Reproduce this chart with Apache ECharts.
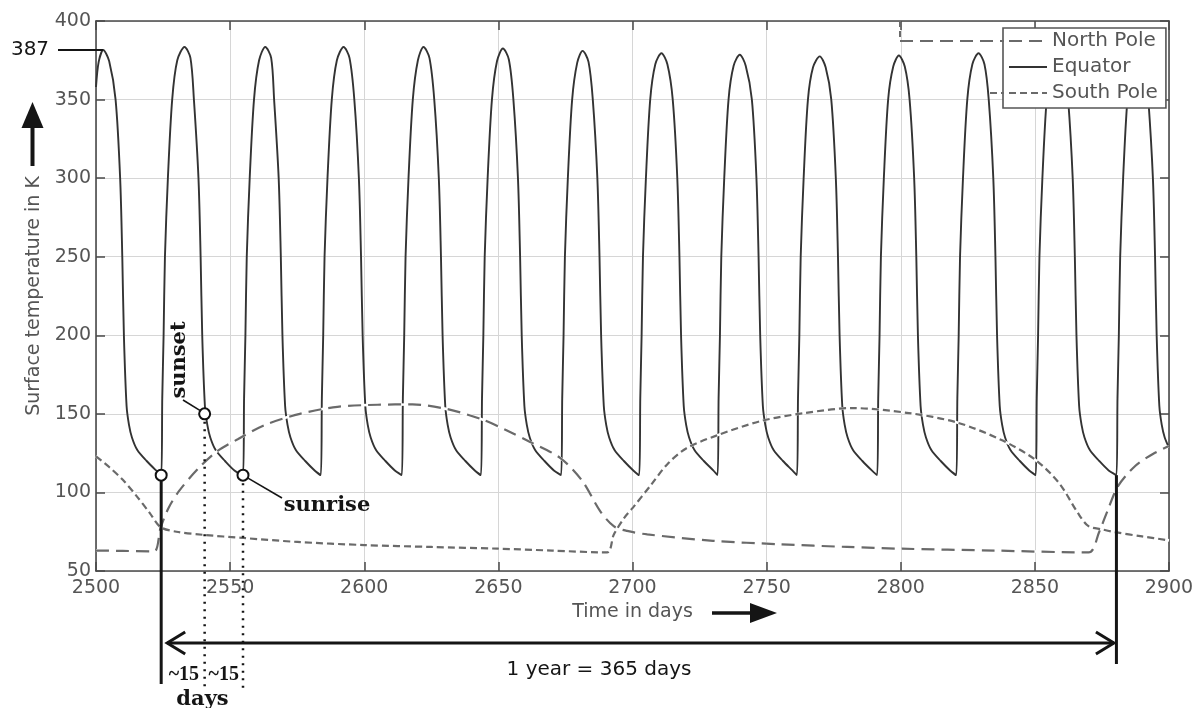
<!DOCTYPE html>
<html><head><meta charset="utf-8">
<script src="https://cdn.jsdelivr.net/npm/echarts@6/dist/echarts.min.js"></script>
<style>html,body{margin:0;padding:0;background:#fff}#c{width:1202px;height:708px}</style>
</head><body><div id="c"></div>
<script>
// ---- data ----
const xRange = [2500, 2900];
const yRange = [50, 400];
const seriesNames = ['North Pole', 'Equator', 'South Pole'];

const equator = [
[2500,358],[2501,374],[2502.7,381.5],[2504.9,374.5],[2507.3,350],[2509.0,300],[2509.8,250],[2510.4,200],[2511.4,155],[2512.3,143],[2513.4,135],[2515.4,127],[2518.9,120],[2522.4,114],
[2524.3,111],[2524.7,160],[2525.2,200],[2525.7,250],[2526.8,300],[2528.4,350],[2530.3,375],[2533.0,383.5],[2535.2,376.5],
[2536.5,350],[2538.2,300],[2539.0,250],[2539.6,200],[2540.6,155],[2541.5,143],[2542.6,135],[2544.6,127],[2548.1,120],[2551.6,114],
[2554.8,111],[2555.2,160],[2555.7,200],[2556.2,250],[2557.3,300],[2558.9,350],[2560.8,375],[2563.1,383.5],[2565.3,376.5],
[2566.4,350],[2568.1,300],[2568.9,250],[2569.5,200],[2570.5,155],[2571.4,143],[2572.5,135],[2574.5,127],[2578.0,120],[2581.5,114],
[2583.8,111],[2584.2,160],[2584.7,200],[2585.2,250],[2586.3,300],[2587.9,350],[2589.8,375],[2592.3,383.5],[2594.5,376.5],
[2596.3,350],[2598.0,300],[2598.8,250],[2599.4,200],[2600.4,155],[2601.3,143],[2602.4,135],[2604.4,127],[2607.9,120],[2611.4,114],
[2614.0,111],[2614.4,160],[2614.9,200],[2615.4,250],[2616.5,300],[2618.1,350],[2620.0,375],[2622.1,383.5],[2624.3,376.5],
[2626.1,350],[2627.8,300],[2628.6,250],[2629.2,200],[2630.2,155],[2631.1,143],[2632.2,135],[2634.2,127],[2637.7,120],[2641.2,114],
[2643.5,111],[2643.9,160],[2644.4,200],[2644.9,250],[2646.0,300],[2647.6,350],[2649.5,374.5],[2651.7,382.5],[2653.9,375.5],
[2655.6,350],[2657.3,300],[2658.1,250],[2658.7,200],[2659.7,155],[2660.6,143],[2661.7,135],[2663.7,127],[2667.2,120],[2670.7,114],
[2673.4,111],[2673.8,160],[2674.3,200],[2674.8,250],[2675.9,300],[2677.5,350],[2679.4,373.5],[2681.4,381],[2683.6,374],
[2685.2,350],[2686.9,300],[2687.7,250],[2688.3,200],[2689.3,155],[2690.2,143],[2691.3,135],[2693.3,127],[2696.8,120],[2700.3,114],
[2702.5,111],[2702.9,160],[2703.4,200],[2703.9,250],[2705.0,300],[2706.6,350],[2708.5,372.5],[2710.8,379.5],[2713.0,372.5],
[2715.0,350],[2716.7,300],[2717.5,250],[2718.1,200],[2719.1,155],[2720.0,143],[2721.1,135],[2723.1,127],[2726.6,120],[2730.1,114],
[2731.7,111],[2732.1,160],[2732.6,200],[2733.1,250],[2734.2,300],[2735.8,350],[2737.7,371.5],[2740.0,378.5],[2742.2,371.5],
[2744.5,350],[2746.2,300],[2747.0,250],[2747.6,200],[2748.6,155],[2749.5,143],[2750.6,135],[2752.6,127],[2756.1,120],[2759.6,114],
[2761.3,111],[2761.7,160],[2762.2,200],[2762.7,250],[2763.8,300],[2765.4,350],[2767.3,370.5],[2769.8,377.5],[2772.0,370.5],
[2774.1,350],[2775.8,300],[2776.6,250],[2777.2,200],[2778.2,155],[2779.1,143],[2780.2,135],[2782.2,127],[2785.7,120],[2789.2,114],
[2791.2,111],[2791.6,160],[2792.1,200],[2792.6,250],[2793.7,300],[2795.3,350],[2797.2,371],[2799.3,378],[2801.5,371],
[2803.3,350],[2805.0,300],[2805.8,250],[2806.4,200],[2807.4,155],[2808.3,143],[2809.4,135],[2811.4,127],[2814.9,120],[2818.4,114],
[2820.7,111],[2821.1,160],[2821.6,200],[2822.1,250],[2823.2,300],[2824.8,350],[2826.7,372.5],[2829.0,379.5],[2831.2,372.5],
[2832.8,350],[2834.5,300],[2835.3,250],[2835.9,200],[2836.9,155],[2837.8,143],[2838.9,135],[2840.9,127],[2844.4,120],[2847.9,114],
[2850.3,111],[2850.7,160],[2851.2,200],[2851.7,250],[2852.8,300],[2854.4,350],[2856.3,374],[2858.6,381],[2860.8,374],
[2862.4,350],[2864.1,300],[2864.9,250],[2865.5,200],[2866.5,155],[2867.4,143],[2868.5,135],[2870.5,127],[2874.0,120],[2877.5,114],
[2880.4,111],[2880.8,160],[2881.3,200],[2881.8,250],[2882.9,300],[2884.5,350],[2886.4,375],[2888.7,382],[2890.9,375],
[2892.3,350],[2894.0,300],[2894.8,250],[2895.4,200],[2896.4,155],[2897.3,143],[2898.4,135],[2900.0,128.5]
];

const northPole = [
[2500,63],[2510,62.8],[2521.6,62.5],[2524,77],[2527,90],[2531,101],[2538,115],[2545,126],[2553,134],[2563,143],
[2576,150],[2590,154.5],[2605,155.8],[2618,156],[2631,153],[2644,146.4],[2653,139.5],[2662,132],[2673,122],[2681,108],
[2688,88],[2693,78.5],[2698,75.5],[2705.5,73.3],[2730,69.2],[2755,67],[2780,65.3],[2800,64.2],[2835,63],[2870,61.8],
[2874,75],[2877,88],[2881,104],[2887.5,117],[2894,124.5],[2900,129.5]
];

const southPole = [
[2500,123],[2505,116],[2510,108],[2515,98],[2520,87],[2524,78],[2530,75],[2540,73],[2555,71],[2575,68.5],
[2600,66.5],[2625,65.3],[2650,64.2],[2670,63],[2690.5,61.8],[2693,73],[2697,84],[2700,90],[2707,105],[2713,118],
[2720,128],[2731,136],[2748,145.5],[2764,150.5],[2782,153.7],[2803,150.5],[2821,144.5],[2838,133],[2850,121],[2859,106],
[2866,87],[2870,78.5],[2875,76.5],[2880,74.7],[2890,72],[2900,69.5]
];

// annotated points: sunrise, sunset, sunrise, and the sunrise one year later
const markedPoints = [[2524.3,111],[2540.5,150],[2554.8,111]];
const yearEnd = [2880.4,111];
const peakLabel = '387';

// ---- chart ----
const chart = echarts.init(document.getElementById('c'), null, {renderer:'canvas'});
const AX = '#4a4a4a';
const TXT = '#555';
const FONT = 'DejaVu Sans';
const axisCommon = {
  type:'value',
  axisLine:{show:true, lineStyle:{color:AX, width:1.6}},
  axisTick:{show:true, inside:true, length:9, lineStyle:{color:AX, width:1.5}}
};
chart.setOption({
  animation:false,
  backgroundColor:'#fff',
  grid:{left:96, right:33, top:21, bottom:137, containLabel:false},
  legend:{
    data:seriesNames, orient:'vertical', left:1003, top:28,
    padding:[3,8,5,5], itemGap:6, itemWidth:38, itemHeight:14,
    backgroundColor:'#fff', borderColor:'#555', borderWidth:1.6, borderRadius:0,
    itemStyle:{color:'rgba(0,0,0,0)', borderWidth:0, opacity:0},
    textStyle:{fontFamily:FONT, fontSize:20, color:TXT, lineHeight:20},
    z:20
  },
  xAxis:[
    Object.assign({}, axisCommon, {
      min:xRange[0], max:xRange[1], interval:50, position:'bottom',
      axisLabel:{fontFamily:FONT, fontSize:19, color:TXT, margin:8, formatter:v=>String(v)},
      splitLine:{show:true, lineStyle:{color:'#d6d6d6', width:1}},
      name:'Time in days', nameLocation:'middle', nameGap:32,
      nameTextStyle:{fontFamily:FONT, fontSize:19, color:TXT}
    }),
    Object.assign({}, axisCommon, {
      min:xRange[0], max:xRange[1], interval:50, position:'top',
      axisLabel:{show:false}, splitLine:{show:false}
    })
  ],
  yAxis:[
    Object.assign({}, axisCommon, {
      min:yRange[0], max:yRange[1], interval:50, position:'left',
      axisLabel:{fontFamily:FONT, fontSize:19, color:TXT, margin:5, formatter:v=>String(v)},
      splitLine:{show:true, lineStyle:{color:'#d6d6d6', width:1}},
      name:'Surface temperature in K', nameLocation:'middle', nameGap:47, nameRotate:90,
      nameTextStyle:{fontFamily:FONT, fontSize:19, color:TXT}
    }),
    Object.assign({}, axisCommon, {
      min:yRange[0], max:yRange[1], interval:50, position:'right',
      axisLabel:{show:false}, splitLine:{show:false}
    })
  ],
  series:[
    {name:'Equator', type:'line', data:equator, symbol:'none', smooth:0.3,
     lineStyle:{color:'#333', width:1.9}, itemStyle:{color:'#222'}, z:2,
     markPoint:{symbol:'circle', symbolSize:11, silent:true,
       itemStyle:{color:'#fff', borderColor:'#111', borderWidth:2},
       label:{show:false},
       data:markedPoints.map(p=>({coord:p}))}
    },
    {name:'NP-under', type:'line', data:northPole, symbol:'none', smooth:0.3,
     lineStyle:{color:'#fff', width:2.6}, z:3, silent:true},
    {name:'SP-under', type:'line', data:southPole, symbol:'none', smooth:0.3,
     lineStyle:{color:'#fff', width:2.6}, z:3, silent:true},
    {name:'North Pole', type:'line', data:northPole, symbol:'none', smooth:0.3,
     lineStyle:{color:'#6a6a6a', width:2.2, type:[13,7]}, itemStyle:{color:'#6a6a6a'}, z:4},
    {name:'South Pole', type:'line', data:southPole, symbol:'none', smooth:0.3,
     lineStyle:{color:'#6a6a6a', width:2.2, type:[7,4]}, itemStyle:{color:'#6a6a6a'}, z:4}
  ]
});

// ---- annotations ----
const px = p => chart.convertToPixel({xAxisIndex:0, yAxisIndex:0}, p);
const a0 = px(markedPoints[0]);     // sunrise
const aS = px(markedPoints[1]);     // sunset
const aR = px(markedPoints[2]);     // next sunrise
const aE = px(yearEnd);
const blk = '#151515';
const serif = 'bold 21px "DejaVu Serif"';
const g = [];
// 387 label
g.push({type:'text', x:30, y:50, style:{text:peakLabel, font:'20px "DejaVu Sans"', fill:blk, align:'center', verticalAlign:'middle'}});
g.push({type:'line', shape:{x1:58, y1:50, x2:103, y2:50}, style:{stroke:blk, lineWidth:2}});
// up arrow by y axis
g.push({type:'polygon', shape:{points:[[32.5,102],[21.5,128],[43.5,128]]}, style:{fill:blk}});
g.push({type:'rect', shape:{x:30.5, y:126, width:4, height:40}, style:{fill:blk}});
// right arrow after "Time in days"
g.push({type:'line', shape:{x1:712, y1:613, x2:754, y2:613}, style:{stroke:blk, lineWidth:3.5}});
g.push({type:'polygon', shape:{points:[[777,613],[750,603],[750,623]]}, style:{fill:blk}});
// year markers
g.push({type:'line', shape:{x1:a0[0], y1:a0[1]+5, x2:a0[0], y2:684}, style:{stroke:blk, lineWidth:3}});
g.push({type:'line', shape:{x1:aE[0], y1:aE[1], x2:aE[0], y2:664}, style:{stroke:blk, lineWidth:3}});
const L = a0[0]+6, R = aE[0]-2.5, Y = 643;
g.push({type:'line', shape:{x1:L, y1:Y, x2:R, y2:Y}, style:{stroke:blk, lineWidth:3}});
g.push({type:'polyline', shape:{points:[[L+18,Y-11],[L,Y],[L+18,Y+11]]}, style:{stroke:blk, lineWidth:3, fill:null}});
g.push({type:'polyline', shape:{points:[[R-18,Y-11],[R,Y],[R-18,Y+11]]}, style:{stroke:blk, lineWidth:3, fill:null}});
g.push({type:'text', x:599, y:670, style:{text:'1 year = 365 days', font:'20px "DejaVu Sans"', fill:blk, align:'center', verticalAlign:'middle'}});
// dotted verticals
g.push({type:'line', shape:{x1:aS[0], y1:aS[1]+8, x2:aS[0], y2:690}, style:{stroke:blk, lineWidth:2.5, lineDash:[2,5.5]}});
g.push({type:'line', shape:{x1:aR[0], y1:aR[1]+8, x2:aR[0], y2:690}, style:{stroke:blk, lineWidth:2.5, lineDash:[2,5.5]}});
g.push({type:'text', x:(a0[0]+aS[0])/2+1, y:675, style:{text:'~15', font:'bold 20px "Liberation Serif"', fill:blk, align:'center', verticalAlign:'middle'}});
g.push({type:'text', x:(aS[0]+aR[0])/2, y:675, style:{text:'~15', font:'bold 20px "Liberation Serif"', fill:blk, align:'center', verticalAlign:'middle'}});
g.push({type:'text', x:202.5, y:700, style:{text:'days', font:serif, fill:blk, align:'center', verticalAlign:'middle'}});
// sunset / sunrise labels
g.push({type:'text', x:180, y:360, rotation:Math.PI/2, style:{text:'sunset', font:serif, fill:blk, align:'center', verticalAlign:'middle'}});
g.push({type:'line', shape:{x1:183, y1:400, x2:aS[0]-4, y2:aS[1]-3}, style:{stroke:blk, lineWidth:1.6}});
g.push({type:'text', x:327, y:506, style:{text:'sunrise', font:serif, fill:blk, align:'center', verticalAlign:'middle'}});
g.push({type:'line', shape:{x1:aR[0]+5, y1:aR[1]+3, x2:282, y2:498}, style:{stroke:blk, lineWidth:1.6}});
// legend sample extensions (as in the source image)
g.push({type:'line', shape:{x1:900, y1:41, x2:1004, y2:41}, style:{stroke:'#6a6a6a', lineWidth:2.2, lineDash:[13,7]}});
g.push({type:'line', shape:{x1:900, y1:21, x2:900, y2:41}, style:{stroke:'#6a6a6a', lineWidth:2, lineDash:[6,4]}});
g.push({type:'line', shape:{x1:990, y1:93, x2:1004, y2:93}, style:{stroke:'#6a6a6a', lineWidth:2.2, lineDash:[7,4]}});
chart.setOption({graphic:{elements:g.map(e=>Object.assign({z:50, silent:true}, e))}});
</script></body></html>
